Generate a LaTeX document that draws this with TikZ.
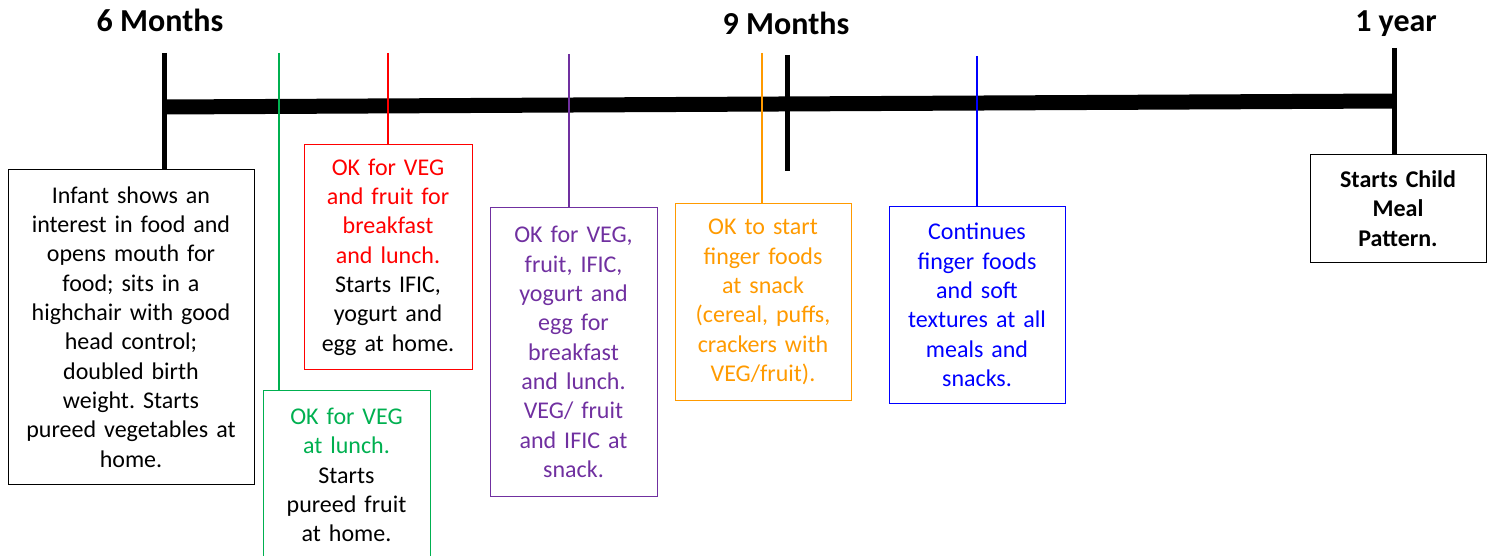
\documentclass[tikz,border=0pt]{standalone}
\usepackage{fontspec}
\setmainfont{Carlito}
\frenchspacing
\definecolor{vegreen}{HTML}{00B050}
\definecolor{vegred}{HTML}{FF0000}
\definecolor{vegpurple}{HTML}{7030A0}
\definecolor{vegorange}{HTML}{FF9A00}
\definecolor{vegblue}{HTML}{0000FF}

\begin{document}
\begin{tikzpicture}
[every node/.style={inner sep=0pt},
 agebox/.style={draw, line width=1pt, align=center, inner xsep=4pt, font=\fontsize{24}{29.3}\selectfont},
 agelabel/.style={anchor=base, font=\fontsize{32}{36}\selectfont\bfseries},
 tick/.style={line width=5pt, color=black},
 stem/.style={line width=2.5pt}]
\clip (0pt, 0pt) rectangle (1494pt, -556pt);
% time line
\coordinate (tl left) at (163pt, -107pt);
\coordinate (tl right) at (1395pt, -101pt);
\draw [line width=15pt, color=black] (tl left) -- (tl right);
% age labels
\node (six) [agelabel] at (160pt, -32pt) {6 Months};
\node (nine) [agelabel] at (786pt, -35pt) {9 Months};
\node (year) [agelabel] at (1396pt, -32pt) {1 year};
% boxes
\node (start) [agebox, text width=238pt, minimum height=315pt] at (131pt, -327pt) {Infant shows an\\ interest in food and\\ opens mouth for\\ food; sits in a\\ highchair with good\\ head control;\\ doubled birth\\ weight. Starts\\ pureed vegetables at\\ home.};
\node (lunch) [agebox, draw=vegreen, text width=159pt, minimum height=170pt] at (346.5pt, -475pt) {\textcolor{vegreen}{OK for VEG}\\ \textcolor{vegreen}{at lunch.}\\ Starts\\ pureed fruit\\ at home.};
\node (breakfast) [agebox, draw=vegred, text width=160pt, minimum height=225pt] at (388pt, -257pt) {\textcolor{vegred}{OK for VEG}\\ \textcolor{vegred}{and fruit for}\\ \textcolor{vegred}{breakfast}\\ \textcolor{vegred}{and lunch.}\\ Starts IFIC,\\ yogurt and\\ egg at home.};
\node (snackific) [agebox, draw=vegpurple, text=vegpurple, text width=159pt, minimum height=288pt] at (573.5pt, -352pt) {OK for VEG,\\ fruit, IFIC,\\ yogurt and\\ egg for\\ breakfast\\ and lunch.\\ VEG/ fruit\\ and IFIC at\\ snack.};
\node (finger) [agebox, draw=vegorange, text=vegorange, text width=168pt, minimum height=196pt] at (763pt, -302pt) {OK to start\\ finger foods\\ at snack\\ (cereal, puffs,\\ crackers with\\ VEG/fruit).};
\node (textures) [agebox, draw=vegblue, text=vegblue, text width=168pt, minimum height=196pt] at (977pt, -305pt) {Continues\\ finger foods\\ and soft\\ textures at all\\ meals and\\ snacks.};
\node (child) [agebox, font=\fontsize{24}{29.3}\selectfont\bfseries, text width=168pt, minimum height=107pt] at (1398pt, -208.5pt) {Starts Child\\ Meal\\ Pattern.};
% ticks
\coordinate (t6) at (164pt, -53pt);
\coordinate (t9 top) at (787pt, -55pt);
\coordinate (t9 bot) at (787pt, -171pt);
\coordinate (t12) at (1394pt, -48pt);
\draw [tick] (t6) -- (start.north -| t6);
\draw [tick] (t9 top) -- (t9 bot);
\draw [tick] (t12) -- (child.north -| t12);
% stems to the boxes
\coordinate (g) at (279pt, -53pt);
\coordinate (r) at (388pt, -53pt);
\coordinate (p) at (569pt, -54pt);
\coordinate (o) at (762pt, -53pt);
\coordinate (b) at (977pt, -56pt);
\draw [stem, color=vegreen] (g) -- (lunch.north -| g);
\draw [stem, color=vegred] (r) -- (breakfast.north -| r);
\draw [stem, color=vegpurple] (p) -- (snackific.north -| p);
\draw [stem, color=vegorange] (o) -- (finger.north -| o);
\draw [stem, color=vegblue] (b) -- (textures.north -| b);
\end{tikzpicture}
\end{document}
